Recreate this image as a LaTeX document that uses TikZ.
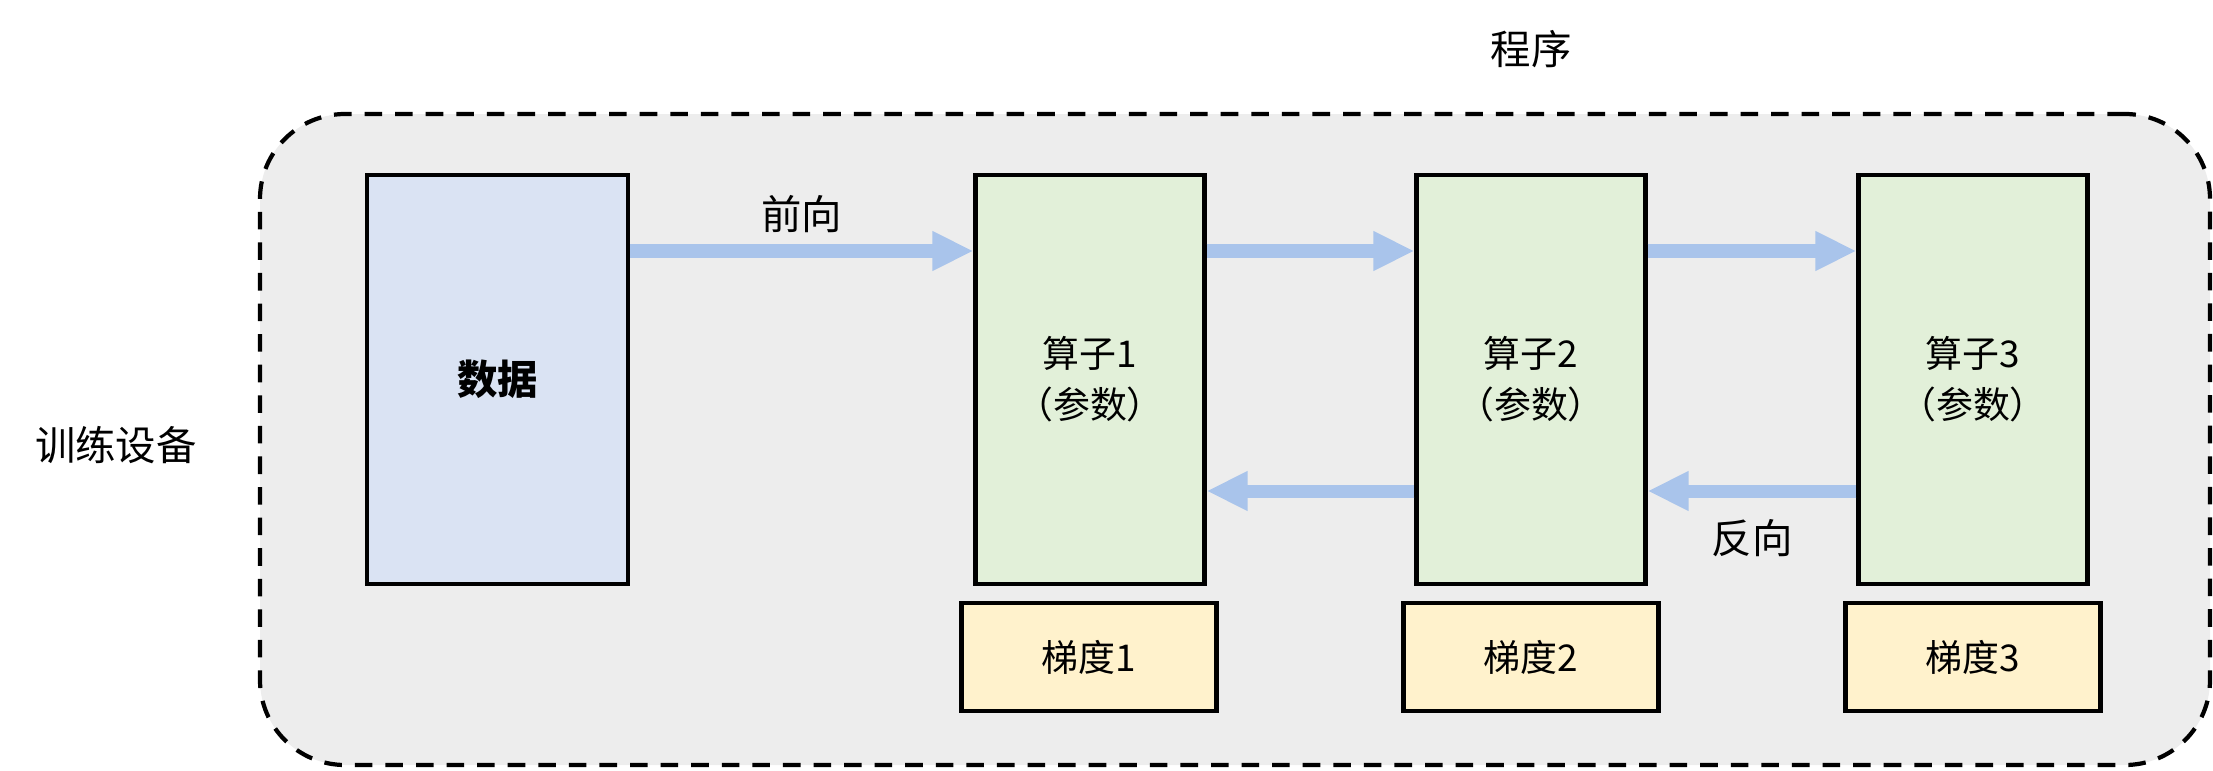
\documentclass[tikz,border=0pt]{standalone}
\usepackage{fontspec}
\setmainfont{Noto Sans CJK SC}
\usetikzlibrary{arrows.meta, positioning}
\definecolor{deviceGray}{HTML}{EDEDED}
\definecolor{dataBlue}{HTML}{DAE3F3}
\definecolor{opGreen}{HTML}{E2F0D9}
\definecolor{gradYellow}{HTML}{FFF2CC}
\definecolor{flowBlue}{HTML}{A9C4EB}
\tikzset{
	devicebox/.style={draw, fill=deviceGray, line width=1.2pt, dash pattern=on 5pt off 3.7pt, rounded corners=0.85cm, minimum width=19.5cm, minimum height=6.51cm, inner sep=0},
	databox/.style={draw, fill=dataBlue, line width=1.2pt, minimum width=2.61cm, minimum height=4.09cm, inner sep=0},
	opbox/.style={draw, fill=opGreen, line width=1.2pt, minimum width=2.29cm, minimum height=4.09cm, inner sep=0, align=center},
	gradbox/.style={draw, fill=gradYellow, line width=1.2pt, minimum width=2.55cm, minimum height=1.08cm, inner sep=0},
	flow/.style={draw=flowBlue, line width=0.13cm, -{Triangle[length=0.41cm, width=0.37cm]}}
}

\begin{document}
\begin{tikzpicture}
\useasboundingbox (0,0) rectangle (22.13,7.70);
{\fontsize{11.5}{14}\selectfont
\node[devicebox] (device) at (12.35,3.305) {};
\node (program) at (15.31,7.21) {程序};
\node (devlabel) at (1.16,3.25) {训练设备};
\node[databox] (data) at (4.975,3.905) {\bfseries 数据};
}
{\fontsize{10.5}{14.5}\selectfont
\node[opbox] (opa) at (10.90,3.905) {算子1\\（参数）};
\node[opbox] (opb) at (15.31,3.905) {算子2\\（参数）};
\node[opbox] (opc) at (19.73,3.905) {算子3\\（参数）};
\node[gradbox] (grada) at (10.89,1.13) {梯度1};
\node[gradbox] (gradb) at (15.31,1.13) {梯度2};
\node[gradbox] (gradc) at (19.73,1.13) {梯度3};
}
\coordinate (fwdlevel) at (0,5.19);
\coordinate (bwdlevel) at (0,2.79);
{\fontsize{11.5}{14}\selectfont
\path[flow] (data.east |- fwdlevel) -- (opa.west |- fwdlevel) node [midway, above=-0.02cm, black] {前向};
\path[flow] (opa.east |- fwdlevel) -- (opb.west |- fwdlevel);
\path[flow] (opb.east |- fwdlevel) -- (opc.west |- fwdlevel);

\path[flow] (opc.west |- bwdlevel) -- (opb.east |- bwdlevel) node [midway, below=0.08cm, black] {反向};
\path[flow] (opb.west |- bwdlevel) -- (opa.east |- bwdlevel);
}
\end{tikzpicture}
\end{document}
